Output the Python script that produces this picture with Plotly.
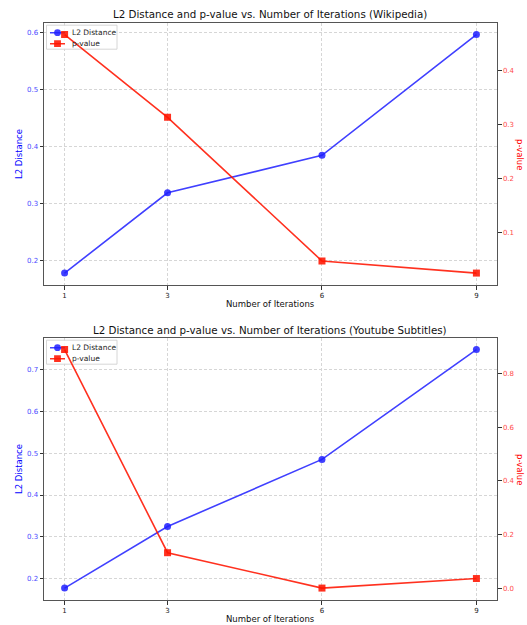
import plotly.graph_objects as go

iterations = [1, 3, 6, 9]
tick_labels = ["1", "3", "6", "9"]

wiki_l2 = [0.178, 0.319, 0.385, 0.597]
wiki_p = [0.467, 0.3135, 0.047, 0.0246]

yt_l2 = [0.178, 0.325, 0.485, 0.747]
yt_p = [0.888, 0.133, 0.0015, 0.037]

series_names = ["L2 Distance", "p-value"]
titles = [
    "L2 Distance and p-value vs. Number of Iterations (Wikipedia)",
    "L2 Distance and p-value vs. Number of Iterations (Youtube Subtitles)",
]

W, H = 527, 625
FONT = "DejaVu Sans, Arial, sans-serif"
BLUE_LINE = "rgba(30,30,255,0.85)"
RED_LINE = "rgba(255,20,0,0.88)"
BLUE_TXT = "#4a4aff"
RED_TXT = "#ff4a4a"
SPINE = "#555555"
GRID = "#d6d6d6"

def px_x(p):
    return p / W

def px_y(p):
    return 1 - p / H

PL, PR = 44, 497
panels = [(22.7, 285), (337.7, 600)]
xdom = [px_x(PL), px_x(PR)]
top_dom = [px_y(panels[0][1]), px_y(panels[0][0])]
bot_dom = [px_y(panels[1][1]), px_y(panels[1][0])]

fig = go.Figure()

def add_pair(l2, pv, xa, ya_l, ya_r):
    fig.add_trace(go.Scatter(
        x=iterations, y=l2, name=series_names[0], mode="lines+markers",
        line=dict(color=BLUE_LINE, width=1.6),
        marker=dict(symbol="circle", size=7, color=BLUE_LINE),
        xaxis=xa, yaxis=ya_l, showlegend=False))
    fig.add_trace(go.Scatter(
        x=iterations, y=pv, name=series_names[1], mode="lines+markers",
        line=dict(color=RED_LINE, width=1.6),
        marker=dict(symbol="square", size=7, color=RED_LINE),
        xaxis=xa, yaxis=ya_r, showlegend=False))

add_pair(wiki_l2, wiki_p, "x", "y", "y2")
add_pair(yt_l2, yt_p, "x2", "y3", "y4")

def pad_range(vals):
    lo, hi = min(vals), max(vals)
    m = (hi - lo) * 0.05
    return [lo - m, hi + m]

xrange_ = pad_range(iterations)
yr_top = pad_range(wiki_l2)
yr_bot = pad_range(yt_l2)

common_x = dict(
    domain=xdom, range=xrange_, tickmode="array", tickvals=iterations,
    ticktext=tick_labels, showgrid=True, gridcolor=GRID, griddash="3px,2px",
    gridwidth=0.8, showline=True, linecolor=SPINE, linewidth=1, mirror=True,
    ticks="outside", ticklen=3.5, tickwidth=0.8, tickcolor="#333",
    tickfont=dict(size=7, color="#222", family=FONT), zeroline=False,
    automargin=False,
)
common_yl = dict(
    showgrid=True, gridcolor=GRID, griddash="3px,2px", gridwidth=0.8,
    showline=True, linecolor=SPINE, linewidth=1, mirror=True,
    ticks="outside", ticklen=3.5, tickwidth=0.8, tickcolor="#333",
    tickfont=dict(size=7, color=BLUE_TXT, family=FONT), zeroline=False,
    automargin=False,
)
common_yr = dict(
    showgrid=False, showline=True, linecolor=SPINE, linewidth=1,
    ticks="outside", ticklen=3.5, tickwidth=0.8, tickcolor="#333",
    tickfont=dict(size=7, color=RED_TXT, family=FONT), zeroline=False,
    side="right", automargin=False,
)

fig.update_layout(
    width=W, height=H,
    margin=dict(l=0, r=0, t=0, b=0),
    paper_bgcolor="white", plot_bgcolor="white",
    font=dict(family=FONT),
    showlegend=False,
    xaxis=dict(common_x, anchor="y"),
    yaxis=dict(common_yl, domain=top_dom, anchor="x", range=yr_top,
               tickvals=[0.2, 0.3, 0.4, 0.5, 0.6], tickformat=".1f"),
    yaxis2=dict(common_yr, overlaying="y", anchor="x", range=pad_range(wiki_p),
                tickvals=[0.1, 0.2, 0.3, 0.4], tickformat=".1f"),
    xaxis2=dict(common_x, anchor="y3"),
    yaxis3=dict(common_yl, domain=bot_dom, anchor="x2", range=yr_bot,
                tickvals=[0.2, 0.3, 0.4, 0.5, 0.6, 0.7], tickformat=".1f"),
    yaxis4=dict(common_yr, overlaying="y3", anchor="x2", range=pad_range(yt_p),
                tickvals=[0.0, 0.2, 0.4, 0.6, 0.8], tickformat=".1f"),
)

ann = []
shapes = []
for t, yc in [(titles[0], 14), (titles[1], 330)]:
    ann.append(dict(text=t, x=px_x(270), y=px_y(yc), xref="paper", yref="paper",
                    xanchor="center", yanchor="middle", showarrow=False,
                    font=dict(size=10.3, color="#111", family=FONT)))
for yc_x, yc_mid in [(304, 154), (619, 469)]:
    ann.append(dict(text="Number of Iterations", x=px_x(270), y=px_y(yc_x),
                    xref="paper", yref="paper", xanchor="center", yanchor="middle",
                    showarrow=False, font=dict(size=8.5, color="#111", family=FONT)))
    ann.append(dict(text="L2 Distance", x=px_x(19), y=px_y(yc_mid), xref="paper",
                    yref="paper", xanchor="center", yanchor="middle", textangle=-90,
                    showarrow=False, font=dict(size=8.5, color="blue", family=FONT)))
    ann.append(dict(text="p-value", x=px_x(520), y=px_y(yc_mid), xref="paper",
                    yref="paper", xanchor="center", yanchor="middle", textangle=90,
                    showarrow=False, font=dict(size=8.5, color="red", family=FONT)))

# legends (one per panel, upper-left), drawn between grid and traces
for (ptop, pbot), xr, yr, yrange in [(panels[0], "x", "y", yr_top),
                                     (panels[1], "x2", "y3", yr_bot)]:
    hgt = pbot - ptop
    def dx(p):
        return xrange_[0] + (p - PL) / (PR - PL) * (xrange_[1] - xrange_[0])
    def dy(p):
        return yrange[0] + (pbot - p) / hgt * (yrange[1] - yrange[0])
    top = ptop + 2.5
    shapes.append(dict(type="rect", xref=xr, yref=yr,
                       x0=dx(46.5), x1=dx(117), y0=dy(top), y1=dy(top + 24),
                       line=dict(color="#cccccc", width=0.8),
                       fillcolor="rgba(255,255,255,0.85)", layer="between"))
    rows = [(top + 7.5, BLUE_LINE, "circle"), (top + 18.5, RED_LINE, "square")]
    for (yy, col, sym), name in zip(rows, series_names):
        shapes.append(dict(type="line", xref=xr, yref=yr,
                           x0=dx(50), x1=dx(65), y0=dy(yy), y1=dy(yy),
                           line=dict(color=col, width=1.6), layer="between"))
        r = 3.4
        shapes.append(dict(type="circle" if sym == "circle" else "rect",
                           xref=xr, yref=yr,
                           x0=dx(57.5 - r), x1=dx(57.5 + r),
                           y0=dy(yy - r), y1=dy(yy + r),
                           line=dict(width=0), fillcolor=col, layer="between"))
        ann.append(dict(text=name, x=px_x(70), y=px_y(yy), xref="paper",
                        yref="paper", xanchor="left", yanchor="middle",
                        showarrow=False,
                        font=dict(size=7.5, color="#222", family=FONT)))

fig.update_layout(annotations=ann, shapes=shapes)

fig.write_html("out.html", config={"displayModeBar": False},
               post_script="document.body.style.margin='0';document.body.style.overflow='hidden';")
